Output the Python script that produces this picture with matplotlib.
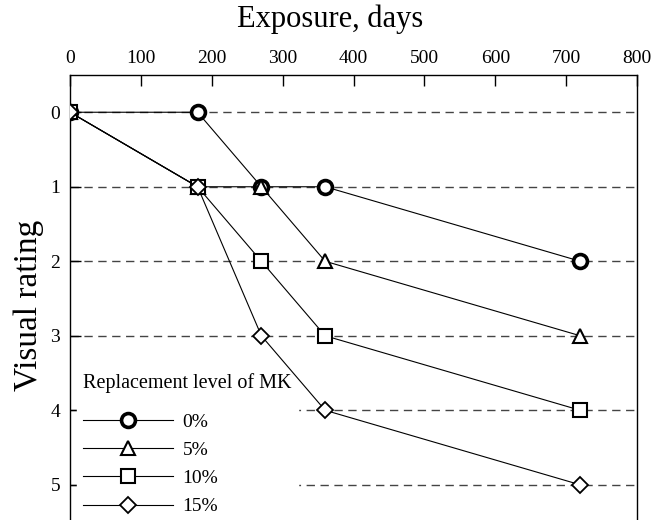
import matplotlib.pyplot as plt

plt.rcParams['font.family'] = ['Liberation Serif', 'DejaVu Serif']

# Data
days = [0, 180, 270, 360, 720]
labels = ['0%', '5%', '10%', '15%']
rating_0 = [0, 0, 1, 1, 2]
rating_5 = [0, 1, 1, 2, 3]
rating_10 = [0, 1, 2, 3, 4]
rating_15 = [0, 1, 3, 4, 5]
levels = [0, 1, 2, 3, 4, 5]
xticks = [0, 100, 200, 300, 400, 500, 600, 700, 800]

fig = plt.figure(figsize=(6.52, 5.2), dpi=100)
ax = fig.add_axes([0.1074, -0.004, 0.8696, 0.8598])

# dashed reference lines
for lv in levels:
    ax.axhline(lv, color='#444444', linestyle=(0, (6, 4)), linewidth=1.0, zorder=1)

series = [rating_0, rating_5, rating_10, rating_15]
markers = ['o', '^', 's', 'D']
sizes = [10, 10, 10.5, 8.5]
mews = [2.6, 1.5, 1.5, 1.3]
for vals, lab, m, ms, mew in zip(series, labels, markers, sizes, mews):
    ax.plot(days, vals, color='black', linewidth=0.8, marker=m, markersize=ms,
            markerfacecolor='white', markeredgecolor='black', markeredgewidth=mew,
            label=lab, zorder=3)

ax.set_xlim(0, 800)
ax.set_ylim(5.5, -0.5)
ax.xaxis.tick_top()
ax.xaxis.set_label_position('top')
ax.set_xticks(xticks)
ax.set_yticks(levels)
ax.tick_params(direction='in', length=8, labelsize=14, width=1, pad=6)
ax.tick_params(axis='y', pad=7)
ax.set_xlabel('Exposure, days', fontsize=22)
ax.xaxis.set_label_coords(0.458, 1.107)
ax.xaxis.label.set_va('baseline')
ax.set_ylabel('Visual rating', fontsize=24)
ax.yaxis.set_label_coords(-0.046, 0.485)
for s in ax.spines.values():
    s.set_linewidth(1.0)

leg = ax.legend(title='Replacement level of MK', loc='lower left',
                bbox_to_anchor=(-0.004, -0.02), frameon=True, fancybox=False,
                edgecolor='white', facecolor='white', framealpha=1,
                fontsize=14, title_fontsize=14.5, handlelength=4.6,
                labelspacing=0.55, borderpad=0.3, alignment='left',
                handletextpad=0.5)
leg._legend_box.sep = 14
leg.set_zorder(2)

fig.savefig('out.png', dpi=100)
